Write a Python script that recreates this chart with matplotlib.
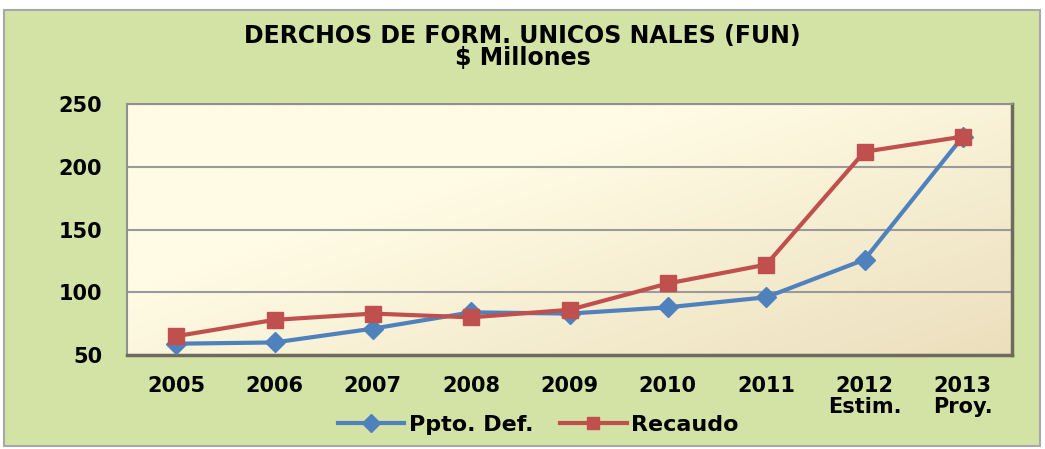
import matplotlib
matplotlib.use('Agg')
import matplotlib.pyplot as plt
from matplotlib.patches import Rectangle
import numpy as np

plt.rcParams['font.family'] = ['DejaVu Sans']
plt.rcParams['font.weight'] = 'bold'

# data
years = ['2005', '2006', '2007', '2008', '2009', '2010', '2011', '2012\nEstim.', '2013\nProy.']
ppto_def = [59, 60, 71, 84, 83, 88, 96, 126, 224]
recaudo = [65, 78, 83, 80, 86, 107, 122, 212, 224]
y_ticks = [50, 100, 150, 200, 250]

W, H = 1045, 449
fig = plt.figure(figsize=(W / 100, H / 100), dpi=100)
fig.patch.set_facecolor('white')

# green background panel with gray border
fig.patches.append(Rectangle((4 / W, 3 / H), 1036 / W, 436 / H, transform=fig.transFigure,
                             facecolor='#D3E3A6', edgecolor='#A8A8A8', linewidth=1.5, zorder=-5))

ax = fig.add_axes([127 / W, 1 - 355 / H, 885 / W, 251 / H])

# cream-to-beige gradient for the plot area
gx, gy = np.meshgrid(np.linspace(0, 1, 200), np.linspace(0, 1, 100))
t = np.clip((gx * 0.7 + gy * 0.6) - 0.45, 0, 1)
c0 = np.array([255, 251, 228]) / 255
c1 = np.array([232, 218, 182]) / 255
img = c0[None, None, :] * (1 - t[..., None]) + c1[None, None, :] * t[..., None]
ax.imshow(img, extent=[0, 1, 0, 1], transform=ax.transAxes, aspect='auto', zorder=0, origin='upper')

x = np.arange(len(years))
ax.plot(x, ppto_def, color='#4F81BD', linewidth=3, marker='D', markersize=10,
        label='Ppto. Def.', zorder=3)
ax.plot(x, recaudo, color='#C0504D', linewidth=3, marker='s', markersize=12,
        label='Recaudo', zorder=4)

ax.set_xlim(-0.5, len(years) - 0.5)
ax.set_ylim(50, 250)
ax.set_yticks(y_ticks)
ax.set_xticks(x)
ax.set_xticklabels(years, fontsize=15, fontweight='bold', linespacing=1.05)
ax.tick_params(axis='y', labelsize=15, length=0, pad=18)
ax.tick_params(axis='x', length=0, pad=15)
ax.grid(axis='y', color='#9A9A9A', linewidth=1.5, zorder=1)
ax.set_axisbelow(True)
for s in ['left', 'top']:
    ax.spines[s].set_color('#909090')
    ax.spines[s].set_linewidth(1.5)
for s in ['right', 'bottom']:
    ax.spines[s].set_color('#6E6A60')
    ax.spines[s].set_linewidth(2.5)

fig.text(0.5, 1 - 36 / H, 'DERCHOS DE FORM. UNICOS NALES (FUN)',
         ha='center', va='center', fontsize=17, fontweight='bold')
fig.text(0.5, 1 - 58 / H, '$ Millones',
         ha='center', va='center', fontsize=17, fontweight='bold')

leg = fig.legend(loc='center', bbox_to_anchor=(538 / W, 1 - 425 / H), ncol=2, frameon=False,
                 fontsize=16, handlelength=3.0, columnspacing=1.2, handletextpad=0.2)
for h in leg.legend_handles:
    h.set_markersize(9)

fig.savefig('out.png', dpi=100)
